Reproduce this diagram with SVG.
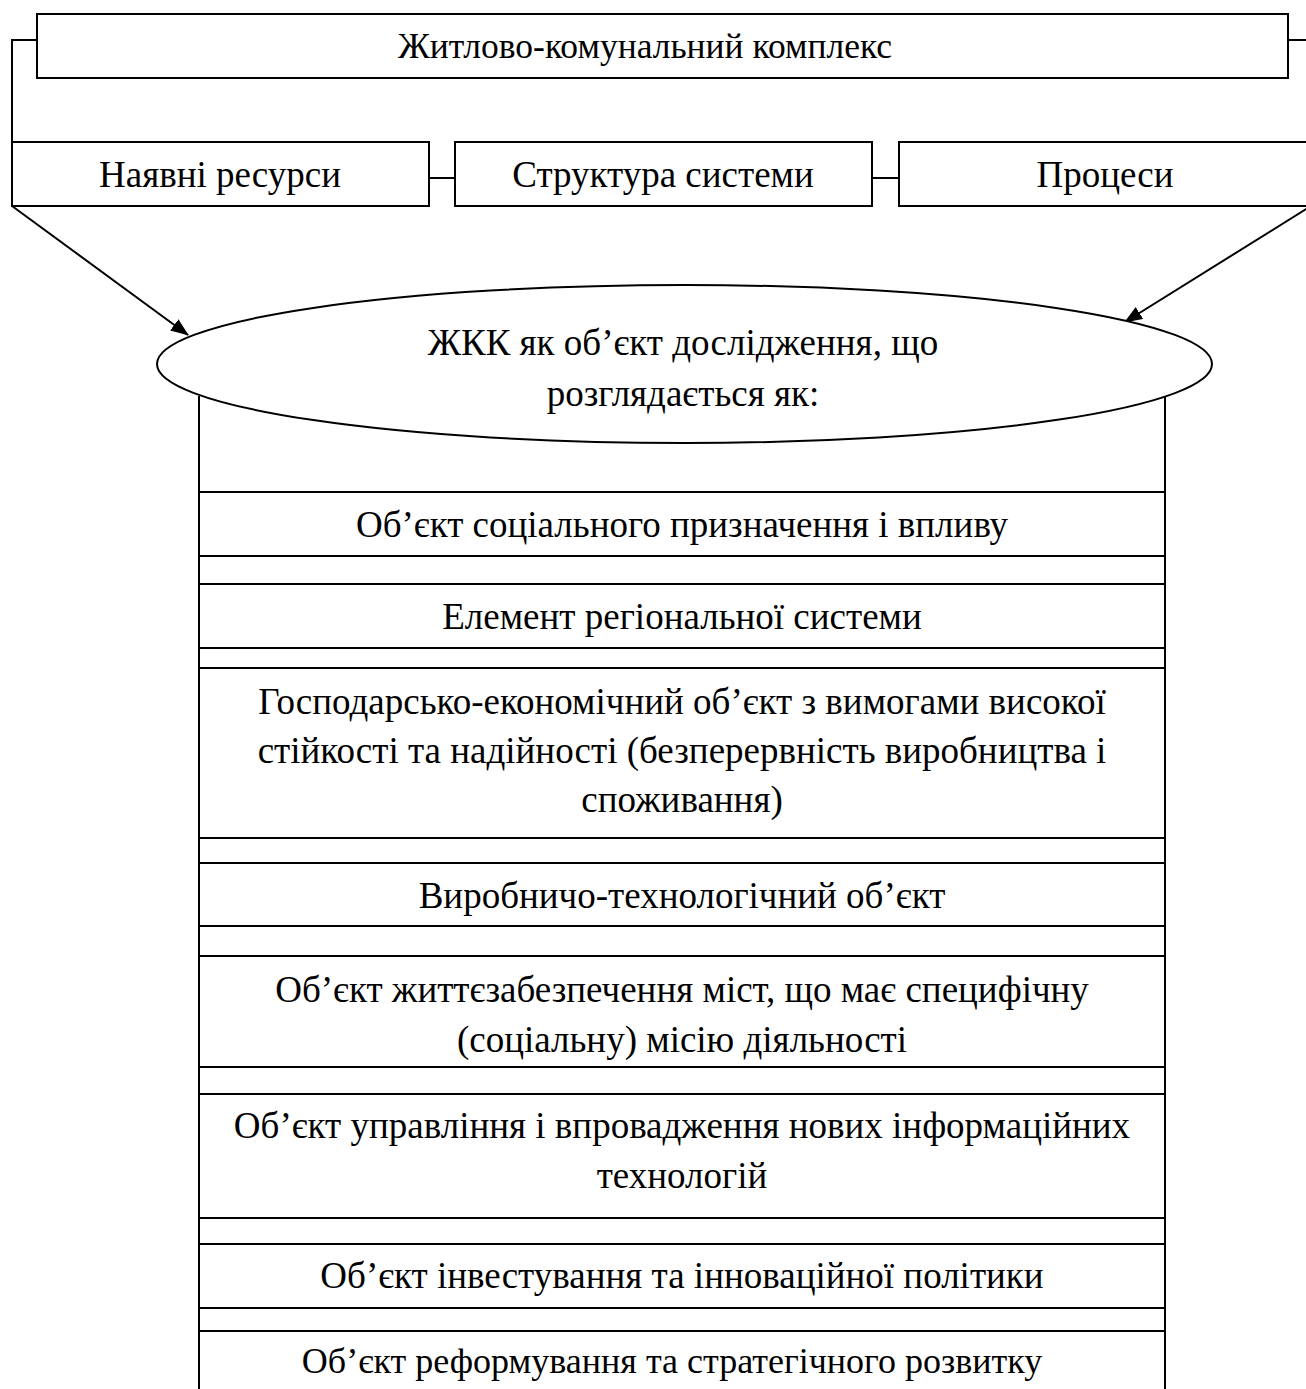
<svg xmlns="http://www.w3.org/2000/svg" width="1306" height="1389" viewBox="0 0 1306 1389">
<defs>
<style>
.box{fill:#fff;stroke:#000;stroke-width:2}
.ln{fill:none;stroke:#000;stroke-width:2}
text{font-family:"Liberation Serif","Times New Roman",serif;font-size:37px;fill:#000;text-anchor:middle}
</style>
<marker id="arr" markerWidth="18" markerHeight="14" refX="17" refY="7" orient="auto" markerUnits="userSpaceOnUse">
<path d="M0,0 L18,7 L0,14 Z" fill="#000"/>
</marker>
</defs>
<rect width="1306" height="1389" fill="#fff"/>
<g id="connectors">
<polyline class="ln" points="37,40 12,40 12,142"/>
<polyline class="ln" points="1288,40 1311,40 1311,142"/>
<line class="ln" x1="429" y1="178" x2="455" y2="178"/>
<line class="ln" x1="872" y1="178" x2="899" y2="178"/>
<line class="ln" x1="12" y1="206" x2="188" y2="335" marker-end="url(#arr)"/>
<line class="ln" x1="1311" y1="206" x2="1125" y2="322" marker-end="url(#arr)"/>
<line class="ln" x1="199" y1="396" x2="199" y2="1395"/>
<line class="ln" x1="1165" y1="396" x2="1165" y2="1395"/>
</g>
<g id="n-top"><rect class="box" x="37" y="14" width="1251" height="64"/><text x="645" y="58" style="font-size:35.5px">Житлово-комунальний комплекс</text></g>
<g id="n-res"><rect class="box" x="12" y="142" width="417" height="64"/><text x="220" y="187">Наявні ресурси</text></g>
<g id="n-str"><rect class="box" x="455" y="142" width="417" height="64"/><text x="663" y="187">Структура системи</text></g>
<g id="n-proc"><rect class="box" x="899" y="142" width="412" height="64"/><text x="1105" y="187">Процеси</text></g>
<g id="n-ell"><ellipse class="box" cx="684.5" cy="364" rx="527.5" ry="79"/><text x="683" y="355">ЖКК як об’єкт дослідження, що</text><text x="683" y="406">розглядається як:</text></g>
<g id="n1"><rect class="box" x="199" y="492" width="966" height="64"/><text x="682" y="537">Об’єкт соціального призначення і впливу</text></g>
<g id="n2"><rect class="box" x="199" y="584" width="966" height="64"/><text x="682" y="629">Елемент регіональної системи</text></g>
<g id="n3"><rect class="box" x="199" y="668" width="966" height="170"/><text x="682" y="714">Господарсько-економічний об’єкт з вимогами високої</text><text x="682" y="763">стійкості та надійності (безперервність виробництва і</text><text x="682" y="812">споживання)</text></g>
<g id="n4"><rect class="box" x="199" y="863" width="966" height="63"/><text x="682" y="908">Виробничо-технологічний об’єкт</text></g>
<g id="n5"><rect class="box" x="199" y="956" width="966" height="111"/><text x="682" y="1002">Об’єкт життєзабезпечення міст, що має специфічну</text><text x="682" y="1052">(соціальну) місію діяльності</text></g>
<g id="n6"><rect class="box" x="199" y="1094" width="966" height="124"/><text x="682" y="1138">Об’єкт управління і впровадження нових інформаційних</text><text x="682" y="1188">технологій</text></g>
<g id="n7"><rect class="box" x="199" y="1244" width="966" height="64"/><text x="682" y="1288">Об’єкт інвестування та інноваційної політики</text></g>
<g id="n8"><rect class="box" x="199" y="1331" width="966" height="80"/><text x="672" y="1373" style="font-size:36px">Об’єкт реформування та стратегічного розвитку</text></g>
</svg>
